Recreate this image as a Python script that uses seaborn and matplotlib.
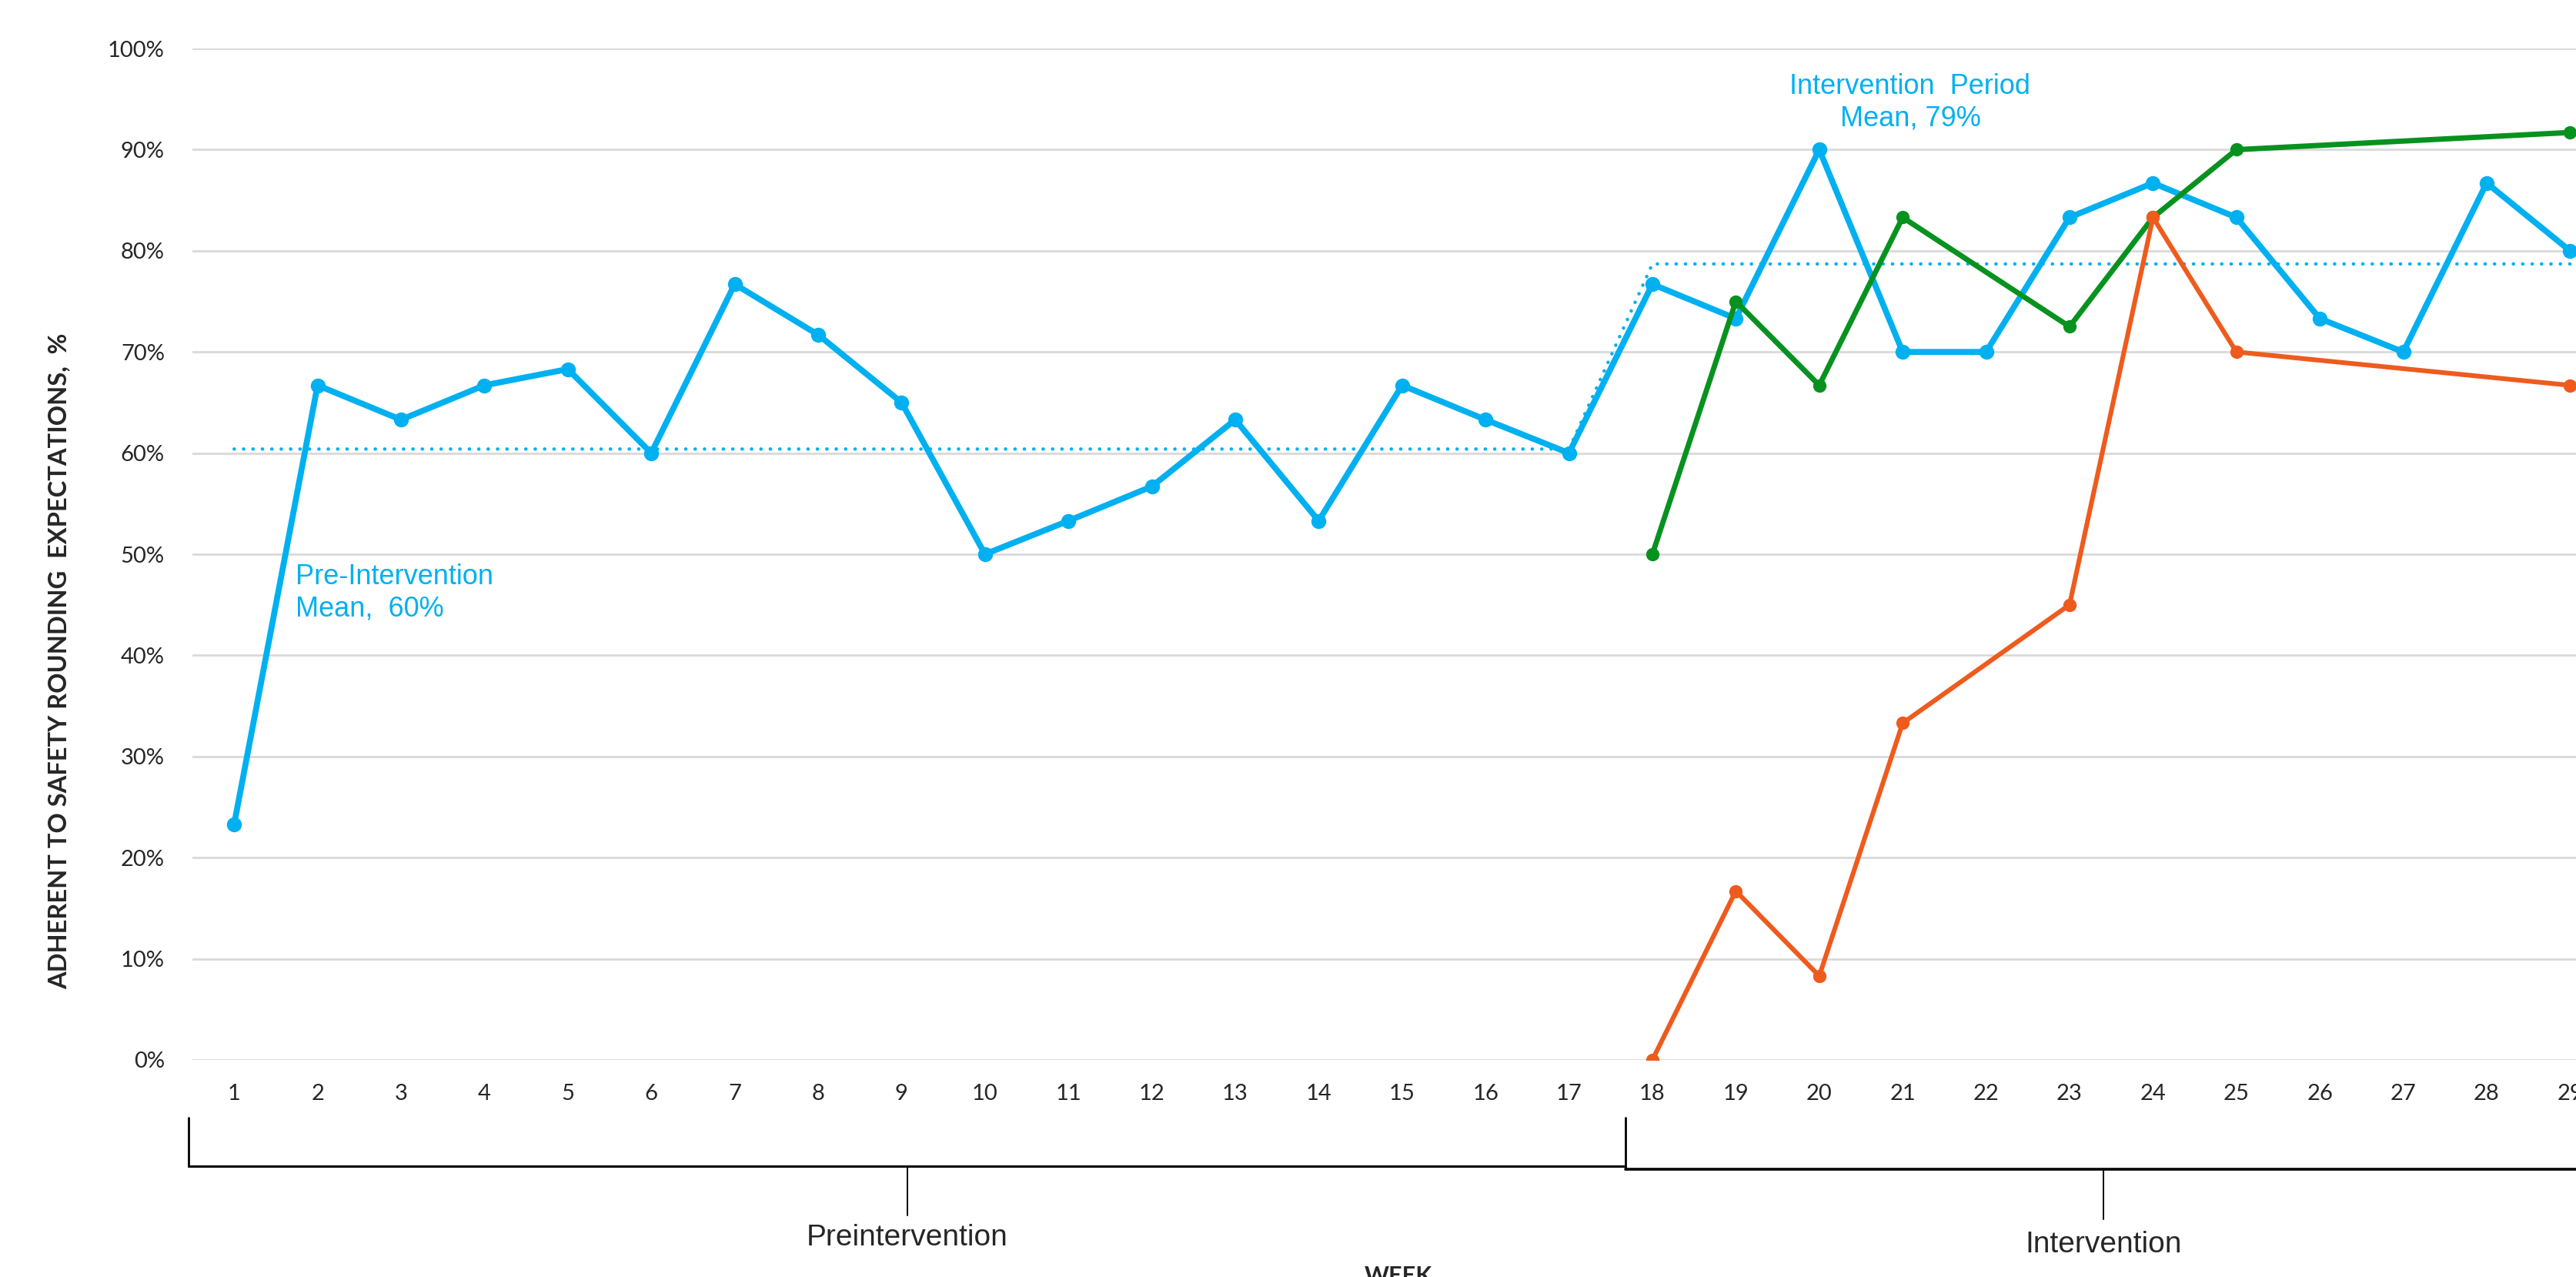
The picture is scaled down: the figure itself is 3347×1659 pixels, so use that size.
import matplotlib
matplotlib.use("Agg")
import matplotlib.pyplot as plt
import seaborn as sns
import pandas as pd

# weekly adherence, %
weeks = list(range(1, 30))
overall = [23.3, 66.7, 63.3, 66.7, 68.3, 60.0, 76.7, 71.7, 65.0, 50.0,
           53.3, 56.7, 63.3, 53.3, 66.7, 63.3, 60.0, 76.7, 73.3, 90.0,
           70.0, 70.0, 83.3, 86.7, 83.3, 73.3, 70.0, 86.7, 80.0]

green_weeks = [18, 19, 20, 21, 23, 24, 25, 29]
green_vals = [50.0, 75.0, 66.7, 83.3, 72.5, 83.3, 90.0, 91.7]

orange_weeks = [18, 19, 20, 21, 23, 24, 25, 29]
orange_vals = [0.0, 16.7, 8.3, 33.3, 45.0, 83.3, 70.0, 66.7]

pre_mean = 60.4
int_mean = 78.7
pre_weeks = list(range(1, 18))
int_weeks = list(range(18, 30))

y_ticks = list(range(0, 101, 10))

BLUE = "#00B0F0"
GREEN = "#07921F"
ORANGE = "#EE5B1D"

df_all = pd.DataFrame({"week": weeks, "pct": overall})
df_green = pd.DataFrame({"week": green_weeks, "pct": green_vals})
df_orange = pd.DataFrame({"week": orange_weeks, "pct": orange_vals})
df_mean = pd.DataFrame({
    "week": pre_weeks + int_weeks,
    "pct": [pre_mean] * len(pre_weeks) + [int_mean] * len(int_weeks),
})

sns.set_theme(style="white")
plt.rcParams["font.family"] = ["Lato", "DejaVu Sans"]

fig = plt.figure(figsize=(33.47, 16.59), dpi=100)
ax = fig.add_axes([0.0747, 0.170, 0.9392, 0.792])

sns.lineplot(data=df_mean, x="week", y="pct", ax=ax, color=BLUE,
             linewidth=3.2, linestyle=(0, (0.05, 2.7)),
             dash_capstyle="round", zorder=2)
sns.lineplot(data=df_all, x="week", y="pct", ax=ax, color=BLUE,
             linewidth=5.6, marker="o", markersize=14,
             markeredgewidth=0, zorder=3)
sns.lineplot(data=df_green, x="week", y="pct", ax=ax, color=GREEN,
             linewidth=5.0, marker="o", markersize=12.5,
             markeredgewidth=0, zorder=4)
sns.lineplot(data=df_orange, x="week", y="pct", ax=ax, color=ORANGE,
             linewidth=4.4, marker="o", markersize=12.5,
             markeredgewidth=0, zorder=5)

ax.set_xlim(0.5, 29.5)
ax.set_ylim(0, 100)
ax.set_xticks(weeks)
ax.set_xticklabels([str(w) for w in weeks])
ax.set_yticks(y_ticks)
ax.set_yticklabels([f"{t}%" for t in y_ticks])
ax.tick_params(axis="x", length=0, pad=22, labelsize=21)
ax.tick_params(axis="y", length=0, pad=26, labelsize=21)
ax.grid(axis="y", color="#D9D9D9", linewidth=2)
ax.grid(axis="x", visible=False)
for s in ax.spines.values():
    s.set_visible(False)
ax.set_xlabel("")
ax.set_ylabel("")

# mean annotations
ax.text(1.74, 49.1, "Pre-Intervention\nMean,  60%", color=BLUE,
        fontsize=26, family=["Liberation Sans", "DejaVu Sans"],
        ha="left", va="top", linespacing=1.25)
ax.text(21.09, 97.6, "Intervention  Period\nMean, 79%", color=BLUE,
        fontsize=26, family=["Liberation Sans", "DejaVu Sans"],
        ha="center", va="top", linespacing=1.25, multialignment="center")

# period brackets below the axis
tr = ax.get_xaxis_transform()
split = 17.68
left_edge = 0.456
line_kw = dict(color="black", transform=tr, clip_on=False)
ax.plot([left_edge, left_edge], [-0.0571, -0.1051], linewidth=2, **line_kw)
ax.plot([left_edge, split], [-0.1051, -0.1051], linewidth=2.2, **line_kw)
ax.plot([split, split], [-0.0571, -0.1081], linewidth=2, **line_kw)
ax.plot([split, 29.6], [-0.1081, -0.1081], linewidth=2.6, **line_kw)
ax.plot([9.07, 9.07], [-0.1051, -0.1538], linewidth=1.4, **line_kw)
ax.plot([23.41, 23.41], [-0.1081, -0.1577], linewidth=1.4, **line_kw)

ax.text(9.07, -0.1835, "Preintervention", transform=tr, fontsize=28,
        family=["Liberation Sans", "DejaVu Sans"], ha="center", va="baseline")
ax.text(23.41, -0.1904, "Intervention", transform=tr, fontsize=28,
        family=["Liberation Sans", "DejaVu Sans"], ha="center", va="baseline")

fig.text(1817 / 3347, (1659 - 1644) / 1659, "WEEK", fontsize=22,
         fontweight="bold", ha="center", va="top")
fig.text(77 / 3347, 1 - 859 / 1659,
         "ADHERENT TO SAFETY ROUNDING  EXPECTATIONS,  %",
         rotation=90, fontsize=23.5, fontweight="bold",
         ha="center", va="center")

fig.savefig("out.png", dpi=100)
